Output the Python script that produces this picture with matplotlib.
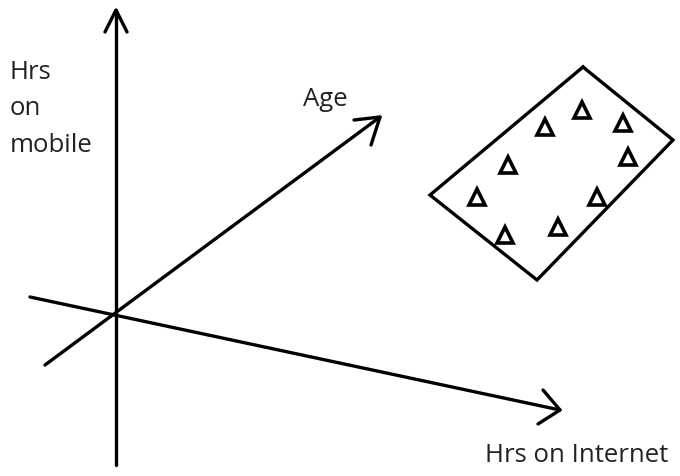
import matplotlib
matplotlib.use("Agg")
import matplotlib.pyplot as plt

# Data: sketch coordinates (pixel space of the drawing)
point_x = [545, 582, 623, 508, 628, 477, 597, 558, 505]
point_y = [127, 110, 123, 165, 157, 197, 197, 227, 235]
cluster_x = [583, 673, 537, 430, 583]
cluster_y = [67, 140, 280, 195, 67]
axis_labels = ["Hrs\non\nmobile", "Age", "Hrs on Internet"]

fig = plt.figure(figsize=(6.8, 4.76), dpi=100)
ax = fig.add_axes([0, 0, 1, 1])
ax.set_xlim(0, 680)
ax.set_ylim(476, 0)
ax.axis("off")

lw = 2.4
c = "black"
# vertical axis
ax.plot([116, 116], [465, 10], color=c, lw=lw, solid_capstyle="round")
ax.plot([105, 116, 127], [32, 10, 32], color=c, lw=lw, solid_capstyle="round", solid_joinstyle="round")
# Hrs on Internet axis
ax.plot([30, 560], [297, 410], color=c, lw=lw, solid_capstyle="round")
ax.plot([543, 560, 538], [390, 410, 424], color=c, lw=lw, solid_capstyle="round", solid_joinstyle="round")
# Age axis
ax.plot([45, 380], [365, 117], color=c, lw=lw, solid_capstyle="round")
ax.plot([354, 380, 371], [120, 117, 145], color=c, lw=lw, solid_capstyle="round", solid_joinstyle="round")

# cluster box
ax.plot(cluster_x, cluster_y, color=c, lw=lw, solid_joinstyle="miter")
ax.plot(point_x, point_y, linestyle="none", marker="^", markersize=11,
        markerfacecolor="white", markeredgecolor=c, markeredgewidth=2.6)

font = dict(family=["Open Sans", "DejaVu Sans"], color="#222222", fontsize=18.5)
ax.text(10, 60, axis_labels[0], va="top", ha="left", linespacing=1.6, **font)
ax.text(303, 99, axis_labels[1], va="center", ha="left", **font)
ax.text(485, 455, axis_labels[2], va="center", ha="left", **font)

fig.savefig("out.png", dpi=100)
